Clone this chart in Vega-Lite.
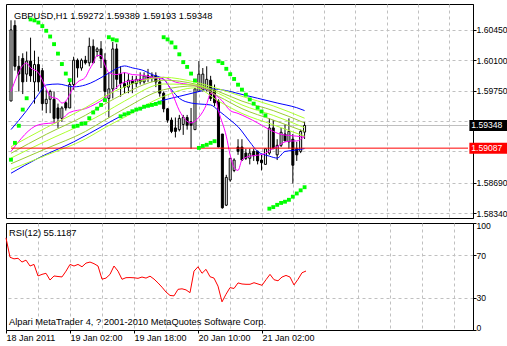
{
"$schema": "https://vega.github.io/schema/vega-lite/v6.json",
"background": "white",
"padding": {"left": 3, "top": 3, "right": 0, "bottom": 0},
"autosize": {"type": "pad"},
"bounds": "flush",
"spacing": 5,
"config": {
  "view": {"stroke": "#000000", "strokeWidth": 1},
  "font": "Liberation Sans",
  "axis": {"gridColor": "#c0c0c0", "gridDash": [3, 3], "gridWidth": 1, "gridOpacity": 1, "labelFont": "Liberation Sans", "labelFontSize": 9, "labelColor": "#000000", "tickColor": "#000000", "domainColor": "#000000", "labelOverlap": false}
},
"datasets": {
  "bars": [
    {"i":0,"o":1.5963,"h":1.6056,"l":1.5963,"c":1.6045,"r":86.1,"s":1.58954},
    {"i":1,"o":1.6050,"h":1.6056,"l":1.5998,"c":1.6003,"r":68,"s":1.59148},
    {"i":2,"o":1.6003,"h":1.6015,"l":1.5974,"c":1.5994,"r":66.5,"s":1.59345},
    {"i":3,"o":1.6012,"h":1.6018,"l":1.5971,"c":1.5985,"r":67,"s":1.59531},
    {"i":4,"o":1.5994,"h":1.6020,"l":1.5985,"c":1.6009,"r":63.5,"s":1.59662},
    {"i":5,"o":1.6009,"h":1.6036,"l":1.5985,"c":1.5992,"r":65.3,"s":1.60570},
    {"i":6,"o":1.5985,"h":1.6021,"l":1.5960,"c":1.6005,"r":59.8,"s":1.60559},
    {"i":7,"o":1.6005,"h":1.6014,"l":1.5974,"c":1.5985,"r":61.3,"s":1.60534},
    {"i":8,"o":1.5998,"h":1.6001,"l":1.5952,"c":1.5960,"r":50.5,"s":1.60493},
    {"i":9,"o":1.5960,"h":1.5976,"l":1.5949,"c":1.5965,"r":52,"s":1.60439},
    {"i":10,"o":1.5965,"h":1.5976,"l":1.5949,"c":1.5974,"r":53,"s":1.60373},
    {"i":11,"o":1.5965,"h":1.5974,"l":1.5938,"c":1.5943,"r":46.7,"s":1.60285},
    {"i":12,"o":1.5955,"h":1.5960,"l":1.5932,"c":1.5943,"r":50.5,"s":1.60176},
    {"i":13,"o":1.5943,"h":1.5957,"l":1.5939,"c":1.5955,"r":50,"s":1.60056},
    {"i":14,"o":1.5961,"h":1.5963,"l":1.5952,"c":1.5955,"r":49.6,"s":1.59946},
    {"i":15,"o":1.5955,"h":1.5985,"l":1.5955,"c":1.5982,"r":55,"s":1.59870},
    {"i":16,"o":1.5982,"h":1.6014,"l":1.5976,"c":1.6010,"r":61.3,"s":1.59337},
    {"i":17,"o":1.6010,"h":1.6012,"l":1.5990,"c":1.6001,"r":59.8,"s":1.59345},
    {"i":18,"o":1.6001,"h":1.6012,"l":1.5998,"c":1.6010,"r":61.3,"s":1.59367},
    {"i":19,"o":1.6010,"h":1.6015,"l":1.6005,"c":1.6007,"r":59.1,"s":1.59374},
    {"i":20,"o":1.6007,"h":1.6036,"l":1.6003,"c":1.6026,"r":62.5,"s":1.59432},
    {"i":21,"o":1.6026,"h":1.6034,"l":1.6007,"c":1.6007,"r":63.5,"s":1.59498},
    {"i":22,"o":1.6020,"h":1.6025,"l":1.6014,"c":1.6023,"r":62,"s":1.59542},
    {"i":23,"o":1.6023,"h":1.6032,"l":1.6001,"c":1.6012,"r":59.8,"s":1.59585},
    {"i":24,"o":1.6010,"h":1.6018,"l":1.5965,"c":1.5974,"r":47.5,"s":1.59640},
    {"i":25,"o":1.5966,"h":1.5996,"l":1.5944,"c":1.5977,"r":48.5,"s":1.60365},
    {"i":26,"o":1.5977,"h":1.6031,"l":1.5966,"c":1.6023,"r":52,"s":1.60340},
    {"i":27,"o":1.6023,"h":1.6029,"l":1.5977,"c":1.5988,"r":59.8,"s":1.60329},
    {"i":28,"o":1.5994,"h":1.6003,"l":1.5968,"c":1.5983,"r":55,"s":1.59454},
    {"i":29,"o":1.5983,"h":1.5996,"l":1.5972,"c":1.5979,"r":47.4,"s":1.59476},
    {"i":30,"o":1.5979,"h":1.5994,"l":1.5972,"c":1.5987,"r":48.9,"s":1.59490},
    {"i":31,"o":1.5987,"h":1.5992,"l":1.5972,"c":1.5983,"r":49,"s":1.59512},
    {"i":32,"o":1.5983,"h":1.5992,"l":1.5979,"c":1.5988,"r":48.8,"s":1.59531},
    {"i":33,"o":1.5988,"h":1.5996,"l":1.5982,"c":1.5985,"r":48.3,"s":1.59542},
    {"i":34,"o":1.5985,"h":1.5996,"l":1.5983,"c":1.5992,"r":49.5,"s":1.59564},
    {"i":35,"o":1.5992,"h":1.6000,"l":1.5985,"c":1.5989,"r":48.5,"s":1.59575},
    {"i":36,"o":1.5989,"h":1.5996,"l":1.5985,"c":1.5992,"r":50.3,"s":1.59585},
    {"i":37,"o":1.5992,"h":1.5996,"l":1.5979,"c":1.5985,"r":47.6,"s":1.59596},
    {"i":38,"o":1.5985,"h":1.5989,"l":1.5968,"c":1.5972,"r":44,"s":1.59611},
    {"i":39,"o":1.5972,"h":1.5974,"l":1.5950,"c":1.5954,"r":40,"s":1.60365},
    {"i":40,"o":1.5954,"h":1.5955,"l":1.5938,"c":1.5941,"r":35.5,"s":1.60340},
    {"i":41,"o":1.5941,"h":1.5944,"l":1.5926,"c":1.5928,"r":32.3,"s":1.60304},
    {"i":42,"o":1.5932,"h":1.5944,"l":1.5921,"c":1.5928,"r":31.9,"s":1.60249},
    {"i":43,"o":1.5930,"h":1.5947,"l":1.5928,"c":1.5943,"r":38,"s":1.60168},
    {"i":44,"o":1.5936,"h":1.5947,"l":1.5924,"c":1.5944,"r":38.5,"s":1.60078},
    {"i":45,"o":1.5944,"h":1.5947,"l":1.5930,"c":1.5935,"r":37.5,"s":1.60023},
    {"i":46,"o":1.5939,"h":1.5955,"l":1.5908,"c":1.5935,"r":34.9,"s":1.59946},
    {"i":47,"o":1.5930,"h":1.5978,"l":1.5930,"c":1.5977,"r":55,"s":1.59867},
    {"i":48,"o":1.5974,"h":1.6009,"l":1.5974,"c":1.5994,"r":59.1,"s":1.59090},
    {"i":49,"o":1.5976,"h":1.6001,"l":1.5974,"c":1.5994,"r":53,"s":1.59112},
    {"i":50,"o":1.5976,"h":1.6003,"l":1.5974,"c":1.5988,"r":56.7,"s":1.59126},
    {"i":51,"o":1.5987,"h":1.5992,"l":1.5963,"c":1.5966,"r":49.8,"s":1.59148},
    {"i":52,"o":1.5976,"h":1.5982,"l":1.5957,"c":1.5961,"r":48.5,"s":1.59167},
    {"i":53,"o":1.5963,"h":1.5965,"l":1.5910,"c":1.5910,"r":41,"s":1.60089},
    {"i":54,"o":1.5925,"h":1.5925,"l":1.5839,"c":1.5840,"r":26.3,"s":1.60067},
    {"i":55,"o":1.5843,"h":1.5878,"l":1.5842,"c":1.5875,"r":33.4,"s":1.60001},
    {"i":56,"o":1.5872,"h":1.5897,"l":1.5870,"c":1.5897,"r":39.6,"s":1.59939},
    {"i":57,"o":1.5883,"h":1.5897,"l":1.5881,"c":1.5895,"r":38.8,"s":1.59884},
    {"i":58,"o":1.5910,"h":1.5919,"l":1.5901,"c":1.5905,"r":44,"s":1.59818},
    {"i":59,"o":1.5910,"h":1.5919,"l":1.5894,"c":1.5895,"r":43,"s":1.59761},
    {"i":60,"o":1.5903,"h":1.5908,"l":1.5895,"c":1.5897,"r":42.7,"s":1.59703},
    {"i":61,"o":1.5897,"h":1.5908,"l":1.5890,"c":1.5903,"r":42.7,"s":1.59648},
    {"i":62,"o":1.5905,"h":1.5908,"l":1.5894,"c":1.5900,"r":44.2,"s":1.59600},
    {"i":63,"o":1.5905,"h":1.5906,"l":1.5890,"c":1.5894,"r":43,"s":1.59553},
    {"i":64,"o":1.5895,"h":1.5901,"l":1.5883,"c":1.5892,"r":41.8,"s":1.59509},
    {"i":65,"o":1.5890,"h":1.5908,"l":1.5890,"c":1.5908,"r":47,"s":1.59465},
    {"i":66,"o":1.5903,"h":1.5943,"l":1.5901,"c":1.5932,"r":52,"s":1.58390},
    {"i":67,"o":1.5932,"h":1.5941,"l":1.5908,"c":1.5908,"r":47,"s":1.58408},
    {"i":68,"o":1.5901,"h":1.5919,"l":1.5895,"c":1.5912,"r":46,"s":1.58434},
    {"i":69,"o":1.5912,"h":1.5932,"l":1.5910,"c":1.5927,"r":49.5,"s":1.58456},
    {"i":70,"o":1.5925,"h":1.5936,"l":1.5917,"c":1.5917,"r":51,"s":1.58470},
    {"i":71,"o":1.5916,"h":1.5943,"l":1.5908,"c":1.5928,"r":49.5,"s":1.58492},
    {"i":72,"o":1.5919,"h":1.5925,"l":1.5868,"c":1.5889,"r":42.1,"s":1.58528},
    {"i":73,"o":1.5908,"h":1.5916,"l":1.5894,"c":1.5901,"r":47.4,"s":1.58565},
    {"i":74,"o":1.5905,"h":1.5930,"l":1.5903,"c":1.5928,"r":53.5,"s":1.58601},
    {"i":75,"o":1.59272,"h":1.59389,"l":1.59193,"c":1.59348,"r":55.1187,"s":1.58637}
  ],
  "ma": [
    {"s":"bs","i":0,"v":1.58798},{"s":"bs","i":7,"v":1.58973},{"s":"bs","i":16,"v":1.59159},{"s":"bs","i":24,"v":1.59356},{"s":"bs","i":28,"v":1.59454},{"s":"bs","i":32,"v":1.59520},{"s":"bs","i":39,"v":1.59640},{"s":"bs","i":43,"v":1.59684},{"s":"bs","i":48,"v":1.59739},{"s":"bs","i":51,"v":1.59771},{"s":"bs","i":55,"v":1.59750},{"s":"bs","i":58,"v":1.59717},{"s":"bs","i":63,"v":1.59662},{"s":"bs","i":68,"v":1.59607},{"s":"bs","i":73,"v":1.59553},{"s":"bs","i":75,"v":1.59520},
    {"s":"bf","i":0,"v":1.59301},{"s":"bf","i":4,"v":1.59520},{"s":"bf","i":7,"v":1.59706},{"s":"bf","i":9,"v":1.59815},{"s":"bf","i":12,"v":1.59826},{"s":"bf","i":16,"v":1.59793},{"s":"bf","i":19,"v":1.59815},{"s":"bf","i":24,"v":1.59925},{"s":"bf","i":26,"v":1.59979},{"s":"bf","i":29,"v":1.60034},{"s":"bf","i":31,"v":1.60012},{"s":"bf","i":34,"v":1.59979},{"s":"bf","i":36,"v":1.59935},{"s":"bf","i":39,"v":1.59881},{"s":"bf","i":41,"v":1.59760},{"s":"bf","i":43,"v":1.59662},{"s":"bf","i":46,"v":1.59607},{"s":"bf","i":48,"v":1.59596},{"s":"bf","i":51,"v":1.59585},{"s":"bf","i":53,"v":1.59520},{"s":"bf","i":56,"v":1.59411},{"s":"bf","i":58,"v":1.59334},{"s":"bf","i":61,"v":1.59159},{"s":"bf","i":63,"v":1.59049},{"s":"bf","i":66,"v":1.58995},{"s":"bf","i":68,"v":1.58973},{"s":"bf","i":70,"v":1.59049},{"s":"bf","i":72,"v":1.59060},{"s":"bf","i":75,"v":1.59082},
    {"s":"mf","i":0,"v":1.59739},{"s":"mf","i":4,"v":1.60067},{"s":"mf","i":5,"v":1.60012},{"s":"mf","i":7,"v":1.59957},{"s":"mf","i":8,"v":1.59870},{"s":"mf","i":9,"v":1.59771},{"s":"mf","i":10,"v":1.59684},{"s":"mf","i":12,"v":1.59651},{"s":"mf","i":13,"v":1.59607},{"s":"mf","i":14,"v":1.59629},{"s":"mf","i":15,"v":1.59706},{"s":"mf","i":16,"v":1.59793},{"s":"mf","i":17,"v":1.59848},{"s":"mf","i":19,"v":1.59903},{"s":"mf","i":20,"v":1.59990},{"s":"mf","i":21,"v":1.60067},{"s":"mf","i":22,"v":1.60154},{"s":"mf","i":23,"v":1.60154},{"s":"mf","i":24,"v":1.60045},{"s":"mf","i":25,"v":1.59957},{"s":"mf","i":27,"v":1.59935},{"s":"mf","i":29,"v":1.59957},{"s":"mf","i":31,"v":1.59935},{"s":"mf","i":34,"v":1.59925},{"s":"mf","i":36,"v":1.59903},{"s":"mf","i":39,"v":1.59881},{"s":"mf","i":41,"v":1.59739},{"s":"mf","i":43,"v":1.59520},{"s":"mf","i":46,"v":1.59378},{"s":"mf","i":48,"v":1.59443},{"s":"mf","i":50,"v":1.59596},{"s":"mf","i":51,"v":1.59717},{"s":"mf","i":52,"v":1.59706},{"s":"mf","i":53,"v":1.59520},{"s":"mf","i":55,"v":1.59225},{"s":"mf","i":56,"v":1.59006},{"s":"mf","i":57,"v":1.58864},{"s":"mf","i":58,"v":1.58831},{"s":"mf","i":59,"v":1.58951},{"s":"mf","i":61,"v":1.58995},{"s":"mf","i":63,"v":1.59006},{"s":"mf","i":65,"v":1.59028},{"s":"mf","i":66,"v":1.59060},{"s":"mf","i":68,"v":1.59104},{"s":"mf","i":70,"v":1.59159},{"s":"mf","i":72,"v":1.59170},{"s":"mf","i":73,"v":1.59170},{"s":"mf","i":75,"v":1.59225},
    {"s":"ms","i":0,"v":1.59049},{"s":"ms","i":7,"v":1.59356},{"s":"ms","i":12,"v":1.59389},{"s":"ms","i":15,"v":1.59498},{"s":"ms","i":19,"v":1.59542},{"s":"ms","i":24,"v":1.59662},{"s":"ms","i":29,"v":1.59848},{"s":"ms","i":34,"v":1.59881},{"s":"ms","i":39,"v":1.59903},{"s":"ms","i":42,"v":1.59848},{"s":"ms","i":46,"v":1.59815},{"s":"ms","i":51,"v":1.59739},{"s":"ms","i":54,"v":1.59629},{"s":"ms","i":56,"v":1.59520},{"s":"ms","i":58,"v":1.59487},{"s":"ms","i":63,"v":1.59378},{"s":"ms","i":66,"v":1.59301},{"s":"ms","i":69,"v":1.59246},{"s":"ms","i":73,"v":1.59225},{"s":"ms","i":75,"v":1.59214},
    {"s":"g1","i":0,"v":1.59104},{"s":"g1","i":9,"v":1.59323},{"s":"g1","i":19,"v":1.59553},{"s":"g1","i":24,"v":1.59684},{"s":"g1","i":29,"v":1.59793},{"s":"g1","i":39,"v":1.59903},{"s":"g1","i":47,"v":1.59848},{"s":"g1","i":53,"v":1.59771},{"s":"g1","i":59,"v":1.59684},{"s":"g1","i":67,"v":1.59574},{"s":"g1","i":75,"v":1.59432},
    {"s":"g2","i":0,"v":1.59028},{"s":"g2","i":9,"v":1.59246},{"s":"g2","i":19,"v":1.59465},{"s":"g2","i":24,"v":1.59596},{"s":"g2","i":29,"v":1.59717},{"s":"g2","i":39,"v":1.59870},{"s":"g2","i":47,"v":1.59826},{"s":"g2","i":53,"v":1.59739},{"s":"g2","i":59,"v":1.59629},{"s":"g2","i":67,"v":1.59520},{"s":"g2","i":75,"v":1.59378},
    {"s":"g3","i":0,"v":1.58973},{"s":"g3","i":9,"v":1.59170},{"s":"g3","i":19,"v":1.59378},{"s":"g3","i":24,"v":1.59498},{"s":"g3","i":29,"v":1.59629},{"s":"g3","i":39,"v":1.59826},{"s":"g3","i":47,"v":1.59815},{"s":"g3","i":53,"v":1.59717},{"s":"g3","i":59,"v":1.59585},{"s":"g3","i":67,"v":1.59465},{"s":"g3","i":75,"v":1.59323},
    {"s":"g4","i":0,"v":1.58907},{"s":"g4","i":9,"v":1.59082},{"s":"g4","i":19,"v":1.59279},{"s":"g4","i":24,"v":1.59411},{"s":"g4","i":29,"v":1.59542},{"s":"g4","i":39,"v":1.59760},{"s":"g4","i":47,"v":1.59804},{"s":"g4","i":53,"v":1.59684},{"s":"g4","i":59,"v":1.59542},{"s":"g4","i":67,"v":1.59411},{"s":"g4","i":75,"v":1.59279},
    {"s":"g5","i":0,"v":1.58842},{"s":"g5","i":9,"v":1.59006},{"s":"g5","i":19,"v":1.59192},{"s":"g5","i":24,"v":1.59323},{"s":"g5","i":29,"v":1.59443},{"s":"g5","i":39,"v":1.59684},{"s":"g5","i":47,"v":1.59782},{"s":"g5","i":53,"v":1.59629},{"s":"g5","i":59,"v":1.59487},{"s":"g5","i":67,"v":1.59356},{"s":"g5","i":75,"v":1.59225}
  ],
  "tags": [
    {"p":1.59348,"t":"1.59348","col":"#000000"},
    {"p":1.59087,"t":"1.59087","col":"#ff0000"}
  ]
},
"vconcat": [
  {
    "width": 467,
    "height": 214,
    "layer": [
      {
        "data": {"values": [{"p": 1.59348}]},
        "mark": {"type": "rule", "color": "#c0c0c0", "strokeWidth": 1},
        "encoding": {
          "x": {"datum": 0, "type": "quantitative", "scale": {"domain": [0, 116.75], "nice": false, "zero": false}, "axis": {"values": [8,16,24,32,40,48,56,64,72,80,88,96,104,112], "labels": false, "ticks": false, "domain": false, "grid": true, "title": null}},
          "x2": {"datum": 116.75},
          "y": {"field": "p", "type": "quantitative", "scale": {"domain": [1.5834, 1.6069], "nice": false, "zero": false}, "axis": {"orient": "right", "values": [1.5834, 1.5869, 1.5905, 1.594, 1.5975, 1.601, 1.6045], "format": ".5f", "title": null, "grid": true, "tickSize": 3, "labelPadding": 0, "labelFontSize": 8.6, "domain": true, "labelBaseline": "middle", "labelFlush": false, "labelBound": false, "labelOverlap": false, "labelOpacity": {"condition": {"test": "datum.value > 1.5900 && datum.value < 1.5945", "value": 0}, "value": 1}}}
        }
      },
      {
        "data": {"name": "bars"},
        "mark": {"type": "rule", "color": "#000000", "strokeWidth": 1},
        "encoding": {
          "x": {"field": "i", "type": "quantitative", "scale": {"domain": [0, 116.75], "nice": false, "zero": false}, "axis": {"values": [8,16,24,32,40,48,56,64,72,80,88,96,104,112], "labels": false, "ticks": false, "domain": false, "grid": true, "title": null}},
          "y": {"field": "l", "type": "quantitative", "scale": {"domain": [1.5834, 1.6069], "nice": false, "zero": false}, "axis": {"orient": "right", "values": [1.5834, 1.5869, 1.5905, 1.594, 1.5975, 1.601, 1.6045], "format": ".5f", "title": null, "grid": true, "tickSize": 3, "labelPadding": 0, "labelFontSize": 8.6, "domain": true, "labelBaseline": "middle", "labelFlush": false, "labelBound": false, "labelOverlap": false, "labelOpacity": {"condition": {"test": "datum.value > 1.5900 && datum.value < 1.5945", "value": 0}, "value": 1}}},
          "y2": {"field": "h"}
        }
      },
      {
        "data": {"name": "bars"},
        "mark": {"type": "bar", "width": 2, "stroke": "#000000", "strokeWidth": 1},
        "encoding": {
          "x": {"field": "i", "type": "quantitative", "scale": {"domain": [0, 116.75], "nice": false, "zero": false}, "axis": {"values": [8,16,24,32,40,48,56,64,72,80,88,96,104,112], "labels": false, "ticks": false, "domain": false, "grid": true, "title": null}},
          "y": {"field": "o", "type": "quantitative", "scale": {"domain": [1.5834, 1.6069], "nice": false, "zero": false}, "axis": {"orient": "right", "values": [1.5834, 1.5869, 1.5905, 1.594, 1.5975, 1.601, 1.6045], "format": ".5f", "title": null, "grid": true, "tickSize": 3, "labelPadding": 0, "labelFontSize": 8.6, "domain": true, "labelBaseline": "middle", "labelFlush": false, "labelBound": false, "labelOverlap": false, "labelOpacity": {"condition": {"test": "datum.value > 1.5900 && datum.value < 1.5945", "value": 0}, "value": 1}}},
          "y2": {"field": "c"},
          "fill": {"condition": {"test": "datum.c < datum.o", "value": "#000000"}, "value": "#ffffff"}
        }
      },
      {
        "data": {"name": "ma"},
        "mark": {"type": "line", "strokeWidth": 1, "interpolate": "monotone"},
        "encoding": {
          "x": {"field": "i", "type": "quantitative", "scale": {"domain": [0, 116.75], "nice": false, "zero": false}, "axis": {"values": [8,16,24,32,40,48,56,64,72,80,88,96,104,112], "labels": false, "ticks": false, "domain": false, "grid": true, "title": null}},
          "y": {"field": "v", "type": "quantitative", "scale": {"domain": [1.5834, 1.6069], "nice": false, "zero": false}, "axis": {"orient": "right", "values": [1.5834, 1.5869, 1.5905, 1.594, 1.5975, 1.601, 1.6045], "format": ".5f", "title": null, "grid": true, "tickSize": 3, "labelPadding": 0, "labelFontSize": 8.6, "domain": true, "labelBaseline": "middle", "labelFlush": false, "labelBound": false, "labelOverlap": false, "labelOpacity": {"condition": {"test": "datum.value > 1.5900 && datum.value < 1.5945", "value": 0}, "value": 1}}},
          "color": {"field": "s", "type": "nominal", "legend": null, "scale": {"domain": ["g5","g4","g3","g2","g1","ms","mf","bs","bf"], "range": ["#adff2f","#9acd32","#adff2f","#9acd32","#adff2f","#ff00ff","#ff00ff","#0000ff","#0000ff"]}},
          "detail": {"field": "s"}
        }
      },
      {
        "data": {"values": [{"p": 1.59087}]},
        "mark": {"type": "rule", "color": "#ff0000", "strokeWidth": 1},
        "encoding": {
          "x": {"datum": 0, "type": "quantitative", "scale": {"domain": [0, 116.75], "nice": false, "zero": false}, "axis": {"values": [8,16,24,32,40,48,56,64,72,80,88,96,104,112], "labels": false, "ticks": false, "domain": false, "grid": true, "title": null}},
          "x2": {"datum": 116.75},
          "y": {"field": "p", "type": "quantitative", "scale": {"domain": [1.5834, 1.6069], "nice": false, "zero": false}, "axis": {"orient": "right", "values": [1.5834, 1.5869, 1.5905, 1.594, 1.5975, 1.601, 1.6045], "format": ".5f", "title": null, "grid": true, "tickSize": 3, "labelPadding": 0, "labelFontSize": 8.6, "domain": true, "labelBaseline": "middle", "labelFlush": false, "labelBound": false, "labelOverlap": false, "labelOpacity": {"condition": {"test": "datum.value > 1.5900 && datum.value < 1.5945", "value": 0}, "value": 1}}}
        }
      },
      {
        "data": {"name": "bars"},
        "mark": {"type": "point", "shape": "square", "filled": true, "size": 15, "color": "#00ff00", "opacity": 1},
        "encoding": {
          "x": {"field": "i", "type": "quantitative", "scale": {"domain": [0, 116.75], "nice": false, "zero": false}, "axis": {"values": [8,16,24,32,40,48,56,64,72,80,88,96,104,112], "labels": false, "ticks": false, "domain": false, "grid": true, "title": null}},
          "y": {"field": "s", "type": "quantitative", "scale": {"domain": [1.5834, 1.6069], "nice": false, "zero": false}, "axis": {"orient": "right", "values": [1.5834, 1.5869, 1.5905, 1.594, 1.5975, 1.601, 1.6045], "format": ".5f", "title": null, "grid": true, "tickSize": 3, "labelPadding": 0, "labelFontSize": 8.6, "domain": true, "labelBaseline": "middle", "labelFlush": false, "labelBound": false, "labelOverlap": false, "labelOpacity": {"condition": {"test": "datum.value > 1.5900 && datum.value < 1.5945", "value": 0}, "value": 1}}}
        }
      },
      {
        "data": {"name": "tags"},
        "mark": {"type": "bar", "orient": "horizontal", "height": 11},
        "encoding": {
          "x": {"datum": 117.1, "type": "quantitative", "scale": {"domain": [0, 116.75], "nice": false, "zero": false}, "axis": {"values": [8,16,24,32,40,48,56,64,72,80,88,96,104,112], "labels": false, "ticks": false, "domain": false, "grid": true, "title": null}},
          "x2": {"datum": 127},
          "y": {"field": "p", "type": "quantitative", "scale": {"domain": [1.5834, 1.6069], "nice": false, "zero": false}, "axis": {"orient": "right", "values": [1.5834, 1.5869, 1.5905, 1.594, 1.5975, 1.601, 1.6045], "format": ".5f", "title": null, "grid": true, "tickSize": 3, "labelPadding": 0, "labelFontSize": 8.6, "domain": true, "labelBaseline": "middle", "labelFlush": false, "labelBound": false, "labelOverlap": false, "labelOpacity": {"condition": {"test": "datum.value > 1.5900 && datum.value < 1.5945", "value": 0}, "value": 1}}},
          "fill": {"field": "col", "type": "nominal", "scale": null}
        }
      },
      {
        "data": {"name": "tags"},
        "mark": {"type": "text", "align": "left", "baseline": "middle", "font": "Liberation Sans", "fontSize": 8.6, "color": "#ffffff"},
        "encoding": {
          "x": {"datum": 117.6, "type": "quantitative", "scale": {"domain": [0, 116.75], "nice": false, "zero": false}, "axis": {"values": [8,16,24,32,40,48,56,64,72,80,88,96,104,112], "labels": false, "ticks": false, "domain": false, "grid": true, "title": null}},
          "y": {"field": "p", "type": "quantitative", "scale": {"domain": [1.5834, 1.6069], "nice": false, "zero": false}, "axis": {"orient": "right", "values": [1.5834, 1.5869, 1.5905, 1.594, 1.5975, 1.601, 1.6045], "format": ".5f", "title": null, "grid": true, "tickSize": 3, "labelPadding": 0, "labelFontSize": 8.6, "domain": true, "labelBaseline": "middle", "labelFlush": false, "labelBound": false, "labelOverlap": false, "labelOpacity": {"condition": {"test": "datum.value > 1.5900 && datum.value < 1.5945", "value": 0}, "value": 1}}},
          "text": {"field": "t"}
        }
      },
      {
        "data": {"values": [{"t": "GBPUSD,H1  1.59272 1.59389 1.59193 1.59348", "p": 1.6061}]},
        "mark": {"type": "text", "align": "left", "baseline": "middle", "font": "Liberation Sans", "fontSize": 9.3, "color": "#000000"},
        "encoding": {
          "x": {"datum": 0.75, "type": "quantitative", "scale": {"domain": [0, 116.75], "nice": false, "zero": false}, "axis": {"values": [8,16,24,32,40,48,56,64,72,80,88,96,104,112], "labels": false, "ticks": false, "domain": false, "grid": true, "title": null}},
          "y": {"field": "p", "type": "quantitative", "scale": {"domain": [1.5834, 1.6069], "nice": false, "zero": false}, "axis": {"orient": "right", "values": [1.5834, 1.5869, 1.5905, 1.594, 1.5975, 1.601, 1.6045], "format": ".5f", "title": null, "grid": true, "tickSize": 3, "labelPadding": 0, "labelFontSize": 8.6, "domain": true, "labelBaseline": "middle", "labelFlush": false, "labelBound": false, "labelOverlap": false, "labelOpacity": {"condition": {"test": "datum.value > 1.5900 && datum.value < 1.5945", "value": 0}, "value": 1}}},
          "text": {"field": "t"}
        }
      }
    ]
  },
  {
    "width": 467,
    "height": 107,
    "layer": [
      {
        "data": {"name": "bars"},
        "mark": {"type": "line", "color": "#ff0000", "strokeWidth": 1},
        "encoding": {
          "x": {"field": "i", "type": "quantitative", "scale": {"domain": [0, 116.75], "nice": false, "zero": false},
                "axis": {"values": [0,8,16,24,32,40,48,56,64,72,80,88,96,104,112], "grid": true, "title": null, "domain": true,
                         "labelExpr": "datum.value == 0 ? '18 Jan 2011' : datum.value == 16 ? '19 Jan 02:00' : datum.value == 32 ? '19 Jan 18:00' : datum.value == 48 ? '20 Jan 10:00' : datum.value == 64 ? '21 Jan 02:00' : ''",
                         "labelAlign": "left", "labelOverlap": false, "labelFlush": false, "labelBound": false, "labelPadding": 0, "tickSize": 3, "labelFontSize": 9,
                         "tickOpacity": {"condition": {"test": "datum.value % 16 == 0 && datum.value <= 64", "value": 1}, "value": 0},
                         "gridOpacity": {"condition": {"test": "datum.value == 0", "value": 0}, "value": 1}}},
          "y": {"field": "r", "type": "quantitative", "scale": {"domain": [0, 100], "nice": false, "zero": false},
                "axis": {"orient": "right", "values": [0, 30, 70, 100], "title": null, "tickSize": 3, "labelPadding": 0, "labelFlush": true, "labelFlushOffset": 2, "domain": true, "labelFontSize": 8.6, "labelOverlap": false,
                         "gridOpacity": {"condition": {"test": "datum.value == 30 || datum.value == 70", "value": 1}, "value": 0}}}
        }
      },
      {
        "data": {"values": [{"t": "RSI(12) 55.1187", "v": 91}, {"t": "Alpari MetaTrader 4, ? 2001-2010 MetaQuotes Software Corp.", "v": 7.7}]},
        "mark": {"type": "text", "align": "left", "baseline": "middle", "font": "Liberation Sans", "fontSize": 9.3, "color": "#000000"},
        "encoding": {
          "x": {"datum": 0.75, "type": "quantitative", "scale": {"domain": [0, 116.75], "nice": false, "zero": false},
                "axis": {"values": [0,8,16,24,32,40,48,56,64,72,80,88,96,104,112], "grid": true, "title": null, "domain": true,
                         "labelExpr": "datum.value == 0 ? '18 Jan 2011' : datum.value == 16 ? '19 Jan 02:00' : datum.value == 32 ? '19 Jan 18:00' : datum.value == 48 ? '20 Jan 10:00' : datum.value == 64 ? '21 Jan 02:00' : ''",
                         "labelAlign": "left", "labelOverlap": false, "labelFlush": false, "labelBound": false, "labelPadding": 0, "tickSize": 3, "labelFontSize": 9,
                         "tickOpacity": {"condition": {"test": "datum.value % 16 == 0 && datum.value <= 64", "value": 1}, "value": 0},
                         "gridOpacity": {"condition": {"test": "datum.value == 0", "value": 0}, "value": 1}}},
          "y": {"field": "v", "type": "quantitative", "scale": {"domain": [0, 100], "nice": false, "zero": false},
                "axis": {"orient": "right", "values": [0, 30, 70, 100], "title": null, "tickSize": 3, "labelPadding": 0, "labelFlush": true, "labelFlushOffset": 2, "domain": true, "labelFontSize": 8.6, "labelOverlap": false,
                         "gridOpacity": {"condition": {"test": "datum.value == 30 || datum.value == 70", "value": 1}, "value": 0}}},
          "text": {"field": "t"}
        }
      }
    ]
  }
]
}
